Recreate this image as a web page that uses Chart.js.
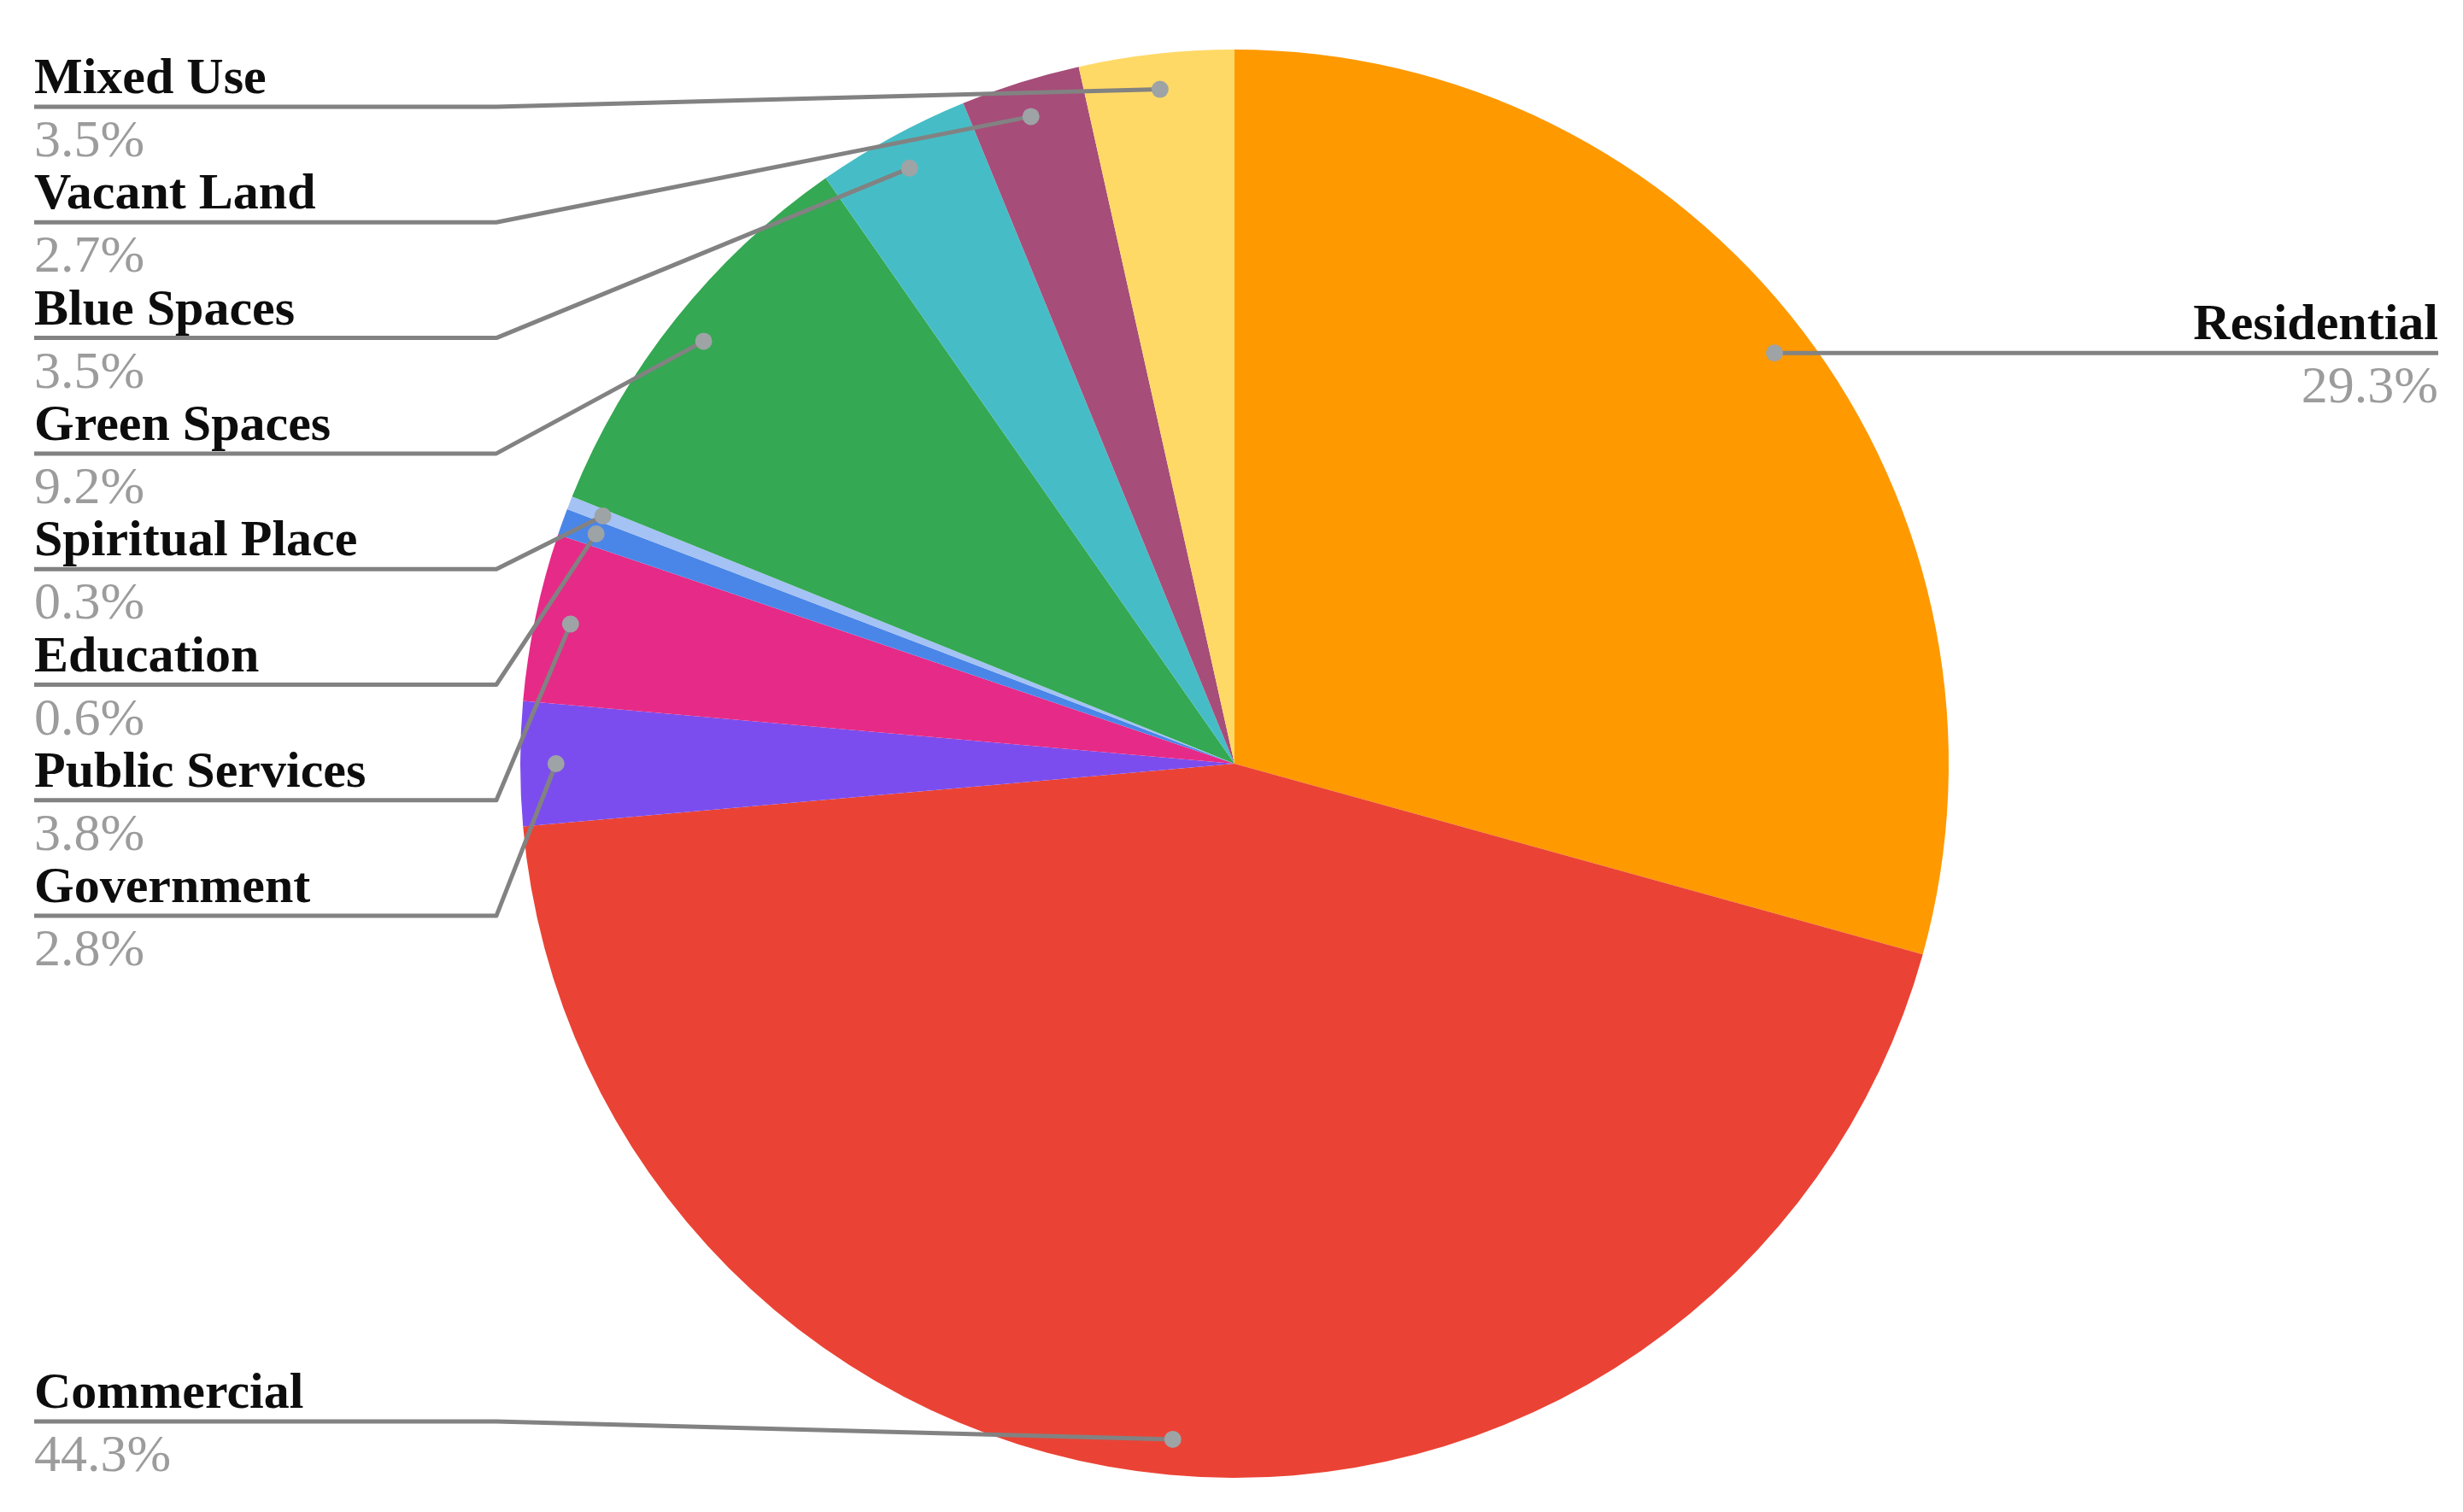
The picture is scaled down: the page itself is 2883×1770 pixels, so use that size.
<!DOCTYPE html>
<html>
<head>
<meta charset="utf-8">
<script src="https://cdn.jsdelivr.net/npm/chart.js@4/dist/chart.umd.min.js"></script>
<style>
  html, body { margin: 0; padding: 0; background: #fff; }
  canvas { display: block; }
</style>
</head>
<body>
<canvas id="pie" width="2883" height="1770"></canvas>
<script>
// Datos del grafico (orden horario desde arriba)
const categories = ['Residential', 'Commercial', 'Government', 'Public Services', 'Education',
  'Spiritual Place', 'Green Spaces', 'Blue Spaces', 'Vacant Land', 'Mixed Use'];
const shares = [29.3, 44.3, 2.8, 3.8, 0.6, 0.3, 9.2, 3.5, 2.7, 3.5];
const sliceColors = ['#ff9900', '#ea4335', '#7c4dee', '#e62a87', '#4a86e8',
  '#a4c2f4', '#34a853', '#46bdc6', '#a64d79', '#ffd966'];

// Etiquetas con lineas guia, estilo hoja de calculo
const leaderLabels = {
  id: 'leaderLabels',
  afterDatasetsDraw(chart) {
    const ctx = chart.ctx;
    const arcs = chart.getDatasetMeta(0).data;
    const total = shares.reduce((a, b) => a + b, 0);
    const W = chart.width;
    const marginX = 40, elbow = 581, gap = 135.3, minY = 125, maxY = 1664;

    const items = arcs.map((arc, i) => {
      const mid = (arc.startAngle + arc.endAngle) / 2;
      const r = arc.outerRadius * 0.95;
      return {
        i,
        px: arc.x + Math.cos(mid) * r,
        py: arc.y + Math.sin(mid) * r,
        left: Math.cos(mid) < 0
      };
    });

    [true, false].forEach(side => {
      const group = items.filter(it => it.left === side).sort((a, b) => a.py - b.py);
      let prev = -Infinity;
      group.forEach(it => {
        let y = Math.max(it.py, minY, prev + gap);
        y = Math.min(y, maxY);
        it.ly = y;
        prev = y;
      });
    });

    ctx.save();
    // lineas
    ctx.strokeStyle = '#828282';
    ctx.lineWidth = 5;
    ctx.lineJoin = 'round';
    items.forEach(it => {
      ctx.beginPath();
      if (it.left) {
        ctx.moveTo(marginX, it.ly);
        ctx.lineTo(elbow, it.ly);
      } else {
        ctx.moveTo(W - 29, it.ly);
        ctx.lineTo(W - elbow, it.ly);
      }
      ctx.lineTo(it.px, it.py);
      ctx.stroke();
    });
    // puntos
    ctx.fillStyle = '#9ea3a6';
    items.forEach(it => {
      ctx.beginPath();
      ctx.arc(it.px, it.py, 10, 0, Math.PI * 2);
      ctx.fill();
    });
    // textos
    items.forEach(it => {
      const x = it.left ? marginX : W - 29;
      ctx.textAlign = it.left ? 'left' : 'right';
      ctx.textBaseline = 'alphabetic';
      ctx.font = 'bold 60px "Liberation Serif", "Times New Roman", serif';
      ctx.fillStyle = '#0d0d0d';
      ctx.fillText(categories[it.i], x, it.ly - 16);
      ctx.font = '62px "Liberation Serif", "Times New Roman", serif';
      ctx.fillStyle = '#9c9c9c';
      ctx.fillText((shares[it.i] / total * 100).toFixed(1) + '%', x, it.ly + 58);
    });
    ctx.restore();
  }
};

new Chart(document.getElementById('pie'), {
  type: 'pie',
  data: {
    labels: categories,
    datasets: [{
      data: shares,
      backgroundColor: sliceColors,
      borderWidth: 0
    }]
  },
  options: {
    responsive: false,
    animation: false,
    layout: { padding: { top: 58, bottom: 40, left: 609, right: 602 } },
    plugins: {
      legend: { display: false },
      tooltip: { enabled: false }
    }
  },
  plugins: [leaderLabels]
});
</script>
</body>
</html>
